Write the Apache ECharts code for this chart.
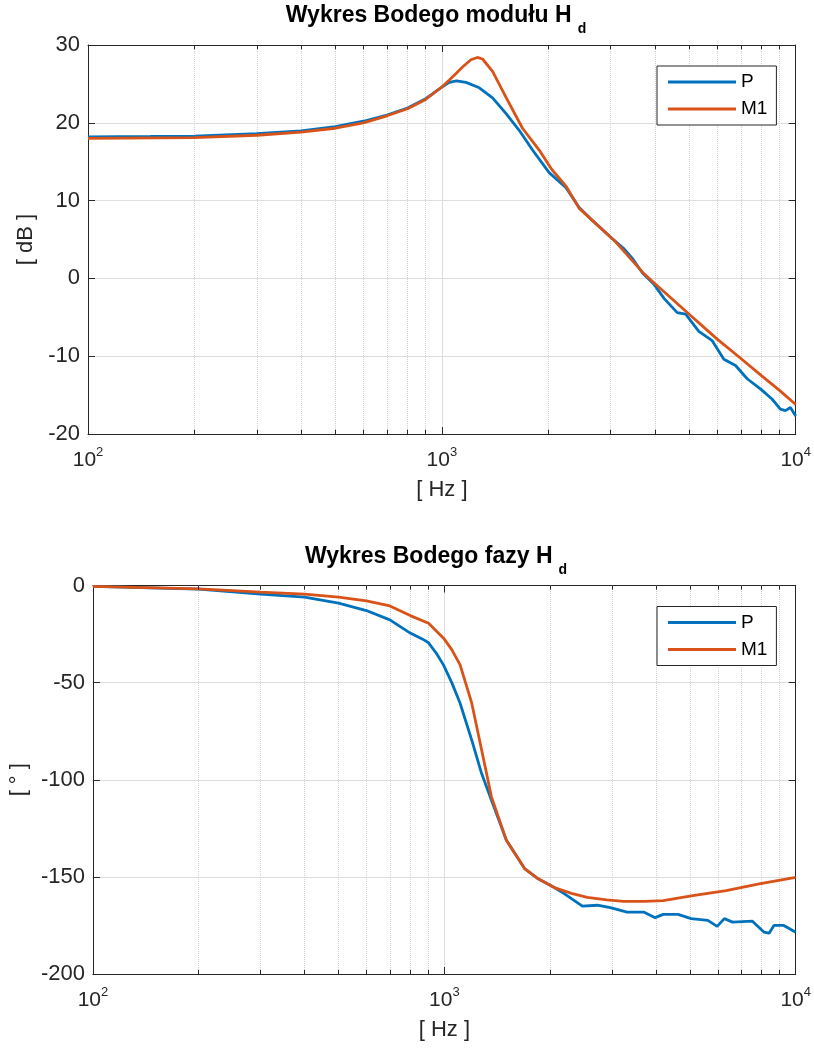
<!DOCTYPE html>
<html><head><meta charset="utf-8">
<script src="https://cdn.jsdelivr.net/npm/echarts@6/dist/echarts.min.js"></script>
<style>html,body{margin:0;padding:0;background:#fff}#c{width:814px;height:1050px}</style>
</head><body><div id="c"></div>
<script>
// ---- data ----
const seriesNames = ['P', 'M1'];
const titleMag = 'Wykres Bodego modułu H';
const titlePhase = 'Wykres Bodego fazy H';
const titleSub = 'd';
const xName = '[ Hz ]';
const yNameMag = '[ dB ]';
const yNamePhase = '[ ° ]';

const freqMagP = [100,150,200,300,400,500,600,700,800,900,1000,1050,1100,1170,1276,1391,1517,1656,1804,2010,2240,2444,2700,3034,3273,3450,3690,3982,4250,4625,4886,5323,5808,6266,6760,7292,7946,8570,9050,9352,9660,10000];
const magP = [18.2,18.25,18.3,18.6,18.95,19.5,20.2,21.0,21.9,23.1,24.6,25.2,25.4,25.2,24.5,23.2,21.2,19.0,16.5,13.6,11.7,9.1,7.2,5.1,3.8,2.6,0.7,-0.8,-2.6,-4.4,-4.6,-6.8,-8.0,-10.4,-11.2,-12.9,-14.2,-15.5,-16.8,-17.0,-16.6,-17.7];

const freqMagM1 = [100,200,300,400,500,600,700,800,900,1000,1050,1100,1146,1208,1260,1303,1391,1517,1690,1884,2045,2240,2444,3097,3690,3982,5000,6000,7000,8000,9000,10000];
const magM1 = [18.0,18.1,18.4,18.8,19.3,20.0,20.9,21.8,23.0,24.6,25.5,26.4,27.2,28.1,28.4,28.2,26.6,23.3,19.3,16.5,14.0,11.9,9.0,4.7,0.8,-0.6,-4.6,-7.8,-10.3,-12.5,-14.4,-16.2];

const freqPhP = [100,200,300,400,500,600,700,800,865,902,950,995,1050,1109,1197,1277,1362,1501,1692,1850,2056,2193,2472,2725,2969,3311,3690,3982,4198,4625,5043,5623,5975,6266,6610,7530,8130,8400,8670,9250,10000];
const phaseP = [-0.5,-1.9,-4.4,-6.0,-9.1,-12.9,-17.7,-24.5,-27.5,-29.5,-35,-41,-50,-60.6,-79.6,-96.8,-110.5,-131.0,-145.7,-151,-155.5,-158.6,-165.1,-164.6,-165.8,-168.1,-168.1,-171.0,-169.3,-169.3,-171.5,-172.4,-175.5,-171.5,-173.3,-172.8,-178.5,-179.0,-175.0,-175.0,-178.5];

const freqPhM1 = [100,200,300,400,500,600,700,800,902,995,1050,1109,1197,1277,1362,1501,1692,1850,2056,2300,2551,2900,3237,3700,4198,5093,6340,7870,10000];
const phaseM1 = [-0.5,-1.7,-3.4,-4.4,-6.0,-7.9,-10.5,-15.5,-19.4,-27.1,-33,-40.9,-60.6,-84.7,-108.8,-131.1,-145.7,-151,-155.5,-158.5,-160.5,-161.8,-162.6,-162.6,-162.2,-159.6,-157.1,-153.6,-150.2];

const xMin = 100, xMax = 10000;
const magMin = -20, magMax = 30, magStep = 10;
const phMin = -200, phMax = 0, phStep = 50;
const minorFreqs = [200,300,400,500,600,700,800,900,2000,3000,4000,5000,6000,7000,8000,9000];

// ---- styling ----
const FONT = "'Liberation Sans', Arial, Helvetica, sans-serif";
const INK = '#262626';
const BLUE = '#0072BD';
const ORANGE = '#D95319';
const zip = (xs, ys) => xs.map((x, i) => [x, ys[i]]);

const chart = echarts.init(document.getElementById('c'), null, {renderer: 'canvas'});

function xAxes(grid) {
  return [
    {
      type: 'log', logBase: 10, gridIndex: grid, min: xMin, max: xMax, position: 'bottom',
      axisLine: {show: true, onZero: false, lineStyle: {color: INK, width: 1}},
      axisTick: {show: true, inside: true, length: 7, lineStyle: {color: INK}},
      axisLabel: {
        show: true, margin: 12, color: INK, fontFamily: FONT,
        formatter: v => '{b|10}{e|' + Math.round(Math.log10(v)) + '}',
        rich: {
          b: {fontSize: 21, lineHeight: 28, color: INK, fontFamily: FONT},
          e: {fontSize: 13, lineHeight: 14, verticalAlign: 'top', color: INK, fontFamily: FONT}
        }
      },
      splitLine: {show: true, lineStyle: {color: '#dedede', width: 1}},
      name: xName, nameLocation: 'middle', nameGap: 45,
      nameTextStyle: {fontSize: 22, color: INK, fontFamily: FONT}
    },
    {
      type: 'log', logBase: 10, gridIndex: grid, min: xMin, max: xMax, position: 'top',
      axisLine: {show: true, onZero: false, lineStyle: {color: INK, width: 1}},
      axisTick: {show: true, inside: true, length: 7, lineStyle: {color: INK}},
      axisLabel: {show: false}, splitLine: {show: false}
    }
  ];
}
function yAxes(grid, mn, mx, step, name) {
  return [
    {
      type: 'value', gridIndex: grid, min: mn, max: mx, interval: step, position: 'left',
      axisLine: {show: true, onZero: false, lineStyle: {color: INK, width: 1}},
      axisTick: {show: true, inside: true, length: 7, lineStyle: {color: INK}},
      axisLabel: {show: true, margin: 8, fontSize: 22, color: INK, fontFamily: FONT},
      splitLine: {show: true, lineStyle: {color: '#dedede', width: 1}},
      name: name, nameLocation: 'middle', nameGap: 47, nameRotate: 90,
      nameTextStyle: {fontSize: 22, color: INK, fontFamily: FONT}
    },
    {
      type: 'value', gridIndex: grid, min: mn, max: mx, interval: step, position: 'right',
      axisLine: {show: true, onZero: false, lineStyle: {color: INK, width: 1}},
      axisTick: {show: true, inside: true, length: 7, lineStyle: {color: INK}},
      axisLabel: {show: false}, splitLine: {show: false}
    }
  ];
}
function minorGrid(xi, yi, mn, mx, len) {
  const lines = minorFreqs.map(f => ({xAxis: f}));
  const ticks = [];
  minorFreqs.forEach(f => {
    ticks.push([{coord: [f, mn]}, {coord: [f, mn + len]}]);
    ticks.push([{coord: [f, mx]}, {coord: [f, mx - len]}]);
  });
  return [
    {
      type: 'line', name: 'minorgrid', xAxisIndex: xi, yAxisIndex: yi, data: [], silent: true,
      markLine: {silent: true, z: 1, symbol: ['none', 'none'], label: {show: false},
        lineStyle: {type: 'dotted', color: '#d4d4d4', width: 1}, emphasis: {disabled: true}, data: lines}
    },
    {
      type: 'line', name: 'minorticks', xAxisIndex: xi, yAxisIndex: yi, data: [], silent: true,
      markLine: {silent: true, z: 3, symbol: ['none', 'none'], label: {show: false},
        lineStyle: {type: 'solid', color: INK, width: 1}, emphasis: {disabled: true}, data: ticks}
    }
  ];
}
function dataSeries(name, color, xi, yi, pts) {
  return {
    type: 'line', name: name, xAxisIndex: xi, yAxisIndex: yi, data: pts,
    symbol: 'none', showSymbol: false, smooth: false, z: 2,
    lineStyle: {color: color, width: 2.8}, itemStyle: {color: color},
    emphasis: {disabled: true}
  };
}
function legend(top) {
  return {
    data: seriesNames.map(n => ({name: n, icon: 'rect'})), orient: 'vertical', left: 657, top: top,
    padding: [6, 9, 6, 11], itemGap: 7, itemWidth: 68, itemHeight: 3,
    backgroundColor: '#fff', borderColor: INK, borderWidth: 1,
    textStyle: {fontSize: 19, lineHeight: 20, color: '#000', fontFamily: FONT}, selectedMode: false
  };
}
function title(text, top) {
  return {
    text: '{a|' + text + '}{s|' + titleSub + '}', left: 436, top: top, padding: 0, textAlign: 'center',
    textStyle: {
      rich: {
        a: {fontSize: 23, fontWeight: 'bold', lineHeight: 24, verticalAlign: 'top', color: '#000', fontFamily: FONT},
        s: {fontSize: 14, fontWeight: 'bold', lineHeight: 14, verticalAlign: 'top', padding: [18, 0, 0, 6], color: '#000', fontFamily: FONT}
      }
    }
  };
}

chart.setOption({
  animation: false,
  backgroundColor: '#fff',
  textStyle: {fontFamily: FONT},
  title: [title(titleMag, 4.5), title(titlePhase, 545)],
  legend: [legend(66), legend(606.5)],
  grid: [
    {left: 88, top: 45, right: 16.5, height: 389, containLabel: false},
    {left: 88, top: 585.5, right: 16.5, height: 388.5, containLabel: false}
  ],
  xAxis: [...xAxes(0), ...xAxes(1)],
  yAxis: [...yAxes(0, magMin, magMax, magStep, yNameMag), ...yAxes(1, phMin, phMax, phStep, yNamePhase)],
  series: [
    ...minorGrid(0, 0, magMin, magMax, 0.55),
    ...minorGrid(2, 2, phMin, phMax, 2.1),
    dataSeries(seriesNames[0], BLUE, 0, 0, zip(freqMagP, magP)),
    dataSeries(seriesNames[1], ORANGE, 0, 0, zip(freqMagM1, magM1)),
    dataSeries(seriesNames[0], BLUE, 2, 2, zip(freqPhP, phaseP)),
    dataSeries(seriesNames[1], ORANGE, 2, 2, zip(freqPhM1, phaseM1))
  ]
});
</script>
</body></html>
